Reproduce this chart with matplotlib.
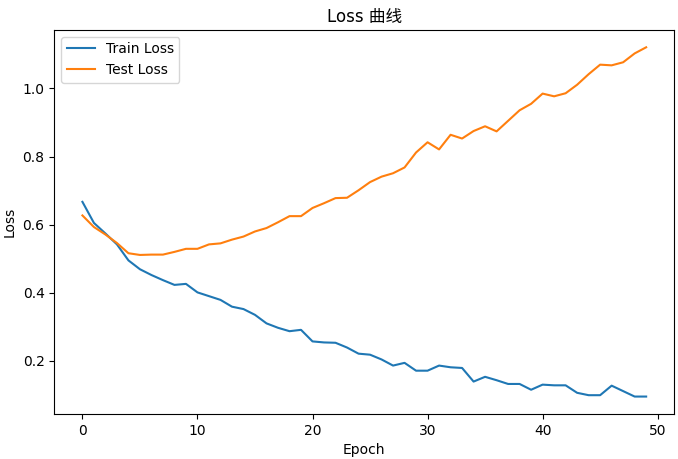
import matplotlib
matplotlib.use("Agg")
import matplotlib.pyplot as plt
import numpy as np

# ── Data ─────────────────────────────────────────────────────────────────────
epochs = np.arange(50)

train_loss = [
    0.667, 0.605, 0.574, 0.542, 0.495, 0.469, 0.452, 0.437, 0.423, 0.426,
    0.401, 0.390, 0.379, 0.359, 0.352, 0.335, 0.310, 0.297, 0.287, 0.291,
    0.257, 0.254, 0.253, 0.239, 0.221, 0.218, 0.204, 0.186, 0.194, 0.171,
    0.171, 0.186, 0.181, 0.179, 0.139, 0.153, 0.143, 0.132, 0.132, 0.115,
    0.130, 0.128, 0.128, 0.106, 0.099, 0.099, 0.127, 0.111, 0.095, 0.095,
]

test_loss = [
    0.627, 0.593, 0.571, 0.546, 0.516, 0.511, 0.512, 0.512, 0.520, 0.529,
    0.529, 0.542, 0.545, 0.556, 0.565, 0.580, 0.590, 0.607, 0.625, 0.625,
    0.649, 0.663, 0.678, 0.679, 0.701, 0.725, 0.741, 0.751, 0.768, 0.812,
    0.842, 0.821, 0.864, 0.853, 0.875, 0.889, 0.874, 0.905, 0.936, 0.955,
    0.985, 0.977, 0.986, 1.011, 1.042, 1.070, 1.068, 1.077, 1.103, 1.121,
]

TITLE = "Loss 曲线"

# ── Plot ─────────────────────────────────────────────────────────────────────
fig, ax = plt.subplots(figsize=(6.78, 4.59), dpi=100)
fig.subplots_adjust(left=0.080, right=0.9946, bottom=0.098, top=0.935)

ax.plot(epochs, train_loss, label="Train Loss")
ax.plot(epochs, test_loss, label="Test Loss")

ax.set_title(TITLE, family=["DejaVu Sans", "Noto Sans CJK SC"])
ax.set_xlabel("Epoch")
ax.set_ylabel("Loss")
ax.legend(loc="upper left")

fig.savefig("out.png", dpi=100)
